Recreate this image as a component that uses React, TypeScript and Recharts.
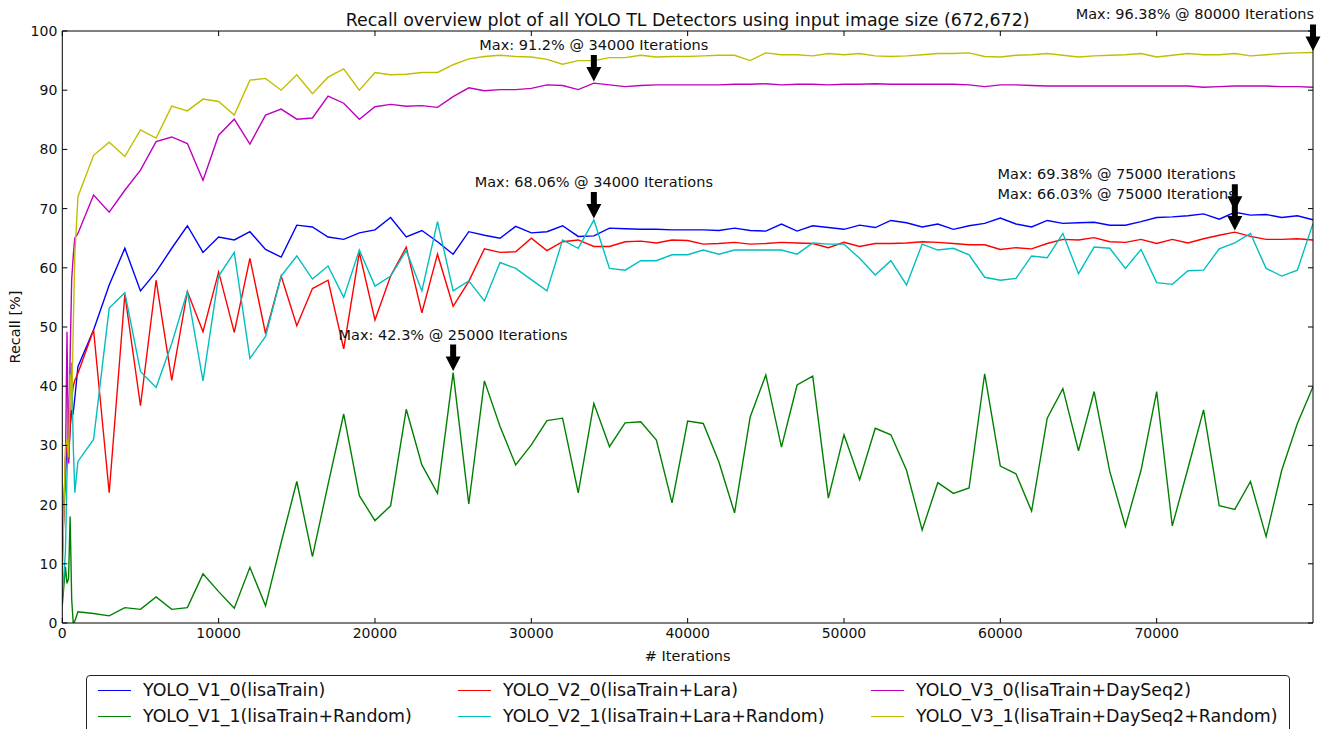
import React from 'react';
import { LineChart, Line, XAxis, YAxis, ReferenceDot, Legend } from 'recharts';

const TITLE = 'Recall overview plot of all YOLO TL Detectors using input image size (672,672)';
const X_LABEL = '# Iterations';
const Y_LABEL = 'Recall [%]';
const FONT = '"DejaVu Sans", sans-serif';

const ITERATIONS = [
  0, 200, 300, 400, 500, 600, 700, 800,
  1000, 2000, 3000, 4000, 5000, 6000, 7000, 8000, 9000, 10000,
  11000, 12000, 13000, 14000, 15000, 16000, 17000, 18000, 19000, 20000,
  21000, 22000, 23000, 24000, 25000, 26000, 27000, 28000, 29000, 30000,
  31000, 32000, 33000, 34000, 35000, 36000, 37000, 38000, 39000, 40000,
  41000, 42000, 43000, 44000, 45000, 46000, 47000, 48000, 49000, 50000,
  51000, 52000, 53000, 54000, 55000, 56000, 57000, 58000, 59000, 60000,
  61000, 62000, 63000, 64000, 65000, 66000, 67000, 68000, 69000, 70000,
  71000, 72000, 73000, 74000, 75000, 76000, 77000, 78000, 79000, 80000,
];

const V1_0 = [
  12, 25, 30, 28, 33, 36, 35.5, 38,
  43.3, 49.5, 57.1, 63.3, 56.1, 59.3, 63.3, 67.1, 62.6, 65.2,
  64.7, 66.1, 63.1, 61.8, 67.2, 66.9, 65.2, 64.8, 65.9, 66.4,
  68.5, 65.2, 66.3, 64.4, 62.3, 66.1, 65.5, 65.0, 67.0, 65.9,
  66.1, 67.1, 65.3, 65.4, 66.7, 66.6, 66.5, 66.5, 66.4, 66.4,
  66.4, 66.3, 66.7, 66.3, 66.2, 67.4, 66.2, 67.1, 66.8, 66.5,
  67.2, 66.8, 68.0, 67.6, 66.9, 67.4, 66.5, 67.1, 67.5, 68.4,
  67.4, 66.9, 68.0, 67.5, 67.6, 67.7, 67.2, 67.2, 67.8, 68.5,
  68.6, 68.8, 69.1, 68.2, 69.38, 68.9, 69.0, 68.5, 68.8, 68.1,
];

const V1_1 = [
  3, 9.5, 6.7, 7.5, 18, 4, 0, 0.3,
  1.9, 1.6, 1.2, 2.6, 2.3, 4.4, 2.3, 2.6, 8.3, 5.3,
  2.5, 9.4, 2.9, 13.6, 23.9, 11.2, 23.4, 35.3, 21.5, 17.3,
  19.8, 36.1, 26.7, 21.9, 42.3, 20.1, 40.9, 33.2, 26.7, 30.1,
  34.2, 34.6, 22.0, 37.1, 29.8, 33.8, 34.0, 30.9, 20.3, 34.1,
  33.7, 27.2, 18.6, 34.8, 41.9, 29.7, 40.2, 41.7, 21.1, 31.8,
  24.2, 32.9, 31.8, 25.8, 15.7, 23.7, 21.9, 22.8, 42.1, 26.5,
  25.2, 18.9, 34.6, 39.6, 29.1, 39.1, 25.6, 16.3, 25.8, 39.1,
  16.4, 26.1, 36.0, 19.8, 19.2, 23.9, 14.6, 25.8, 33.7, 39.9,
];

const V2_0 = [
  10, 28, 30, 27, 33, 38, 40, 41,
  42.2, 49.5, 22.0, 55.5, 36.7, 57.9, 41.0, 56.0, 49.2, 59.3,
  49.1, 61.6, 48.9, 58.6, 50.2, 56.5, 57.9, 46.3, 62.6, 51.2,
  58.6, 63.5, 52.4, 62.3, 53.5, 57.7, 63.2, 62.6, 62.7, 65.0,
  62.9, 64.4, 64.7, 63.6, 63.6, 64.4, 64.5, 64.2, 64.7, 64.6,
  64.0, 64.1, 64.3, 64.0, 64.1, 64.3, 64.2, 64.1, 63.4, 64.3,
  63.6, 64.1, 64.1, 64.2, 64.4, 64.3, 64.1, 63.9, 63.9, 63.1,
  63.4, 63.2, 64.1, 64.8, 64.7, 65.1, 64.4, 64.3, 64.8, 64.1,
  64.8, 64.2, 64.9, 65.5, 66.03, 65.3, 64.8, 64.8, 64.9, 64.7,
];

const V2_1 = [
  4, 12, 25, 35, 40, 44, 30, 22,
  27.3, 31.0, 53.2, 55.8, 42.5, 39.8, 47.2, 56.0, 40.9, 58.6,
  62.6, 44.7, 48.4, 58.6, 62.0, 58.1, 60.3, 55.0, 63.0, 56.9,
  58.6, 62.9, 56.1, 67.8, 56.1, 57.8, 54.4, 60.9, 59.9, 58.0,
  56.1, 64.7, 63.3, 68.06, 59.9, 59.6, 61.2, 61.2, 62.2, 62.2,
  63.0, 62.3, 63.0, 63.0, 63.0, 63.0, 62.3, 64.2, 64.0, 64.0,
  61.6, 58.8, 61.2, 57.1, 64.0, 63.0, 63.3, 62.2, 58.4, 57.9,
  58.2, 62.0, 61.7, 65.8, 59.0, 63.5, 63.3, 59.9, 63.1, 57.5,
  57.2, 59.5, 59.6, 63.2, 64.2, 65.8, 59.9, 58.6, 59.6, 67.5,
];

const V3_0 = [
  14, 26, 49.2, 27, 45, 58, 62, 65,
  65.8, 72.3, 69.4, 73.1, 76.5, 81.3, 82.1, 81.0, 74.8, 82.4,
  85.1, 80.9, 85.8, 86.8, 85.1, 85.3, 89.0, 87.8, 85.1, 87.2,
  87.6, 87.3, 87.4, 87.1, 88.9, 90.4, 89.9, 90.1, 90.1, 90.3,
  90.9, 90.8, 90.1, 91.2, 90.9, 90.6, 90.8, 90.9, 90.9, 90.9,
  90.9, 90.9, 91.0, 91.0, 91.1, 90.9, 91.0, 91.0, 90.9, 91.0,
  91.0, 91.1, 91.0, 91.0, 91.0, 91.0, 91.0, 90.9, 90.6, 90.9,
  90.9, 90.8, 90.7, 90.7, 90.7, 90.7, 90.7, 90.7, 90.7, 90.7,
  90.7, 90.7, 90.5, 90.6, 90.7, 90.7, 90.7, 90.6, 90.6, 90.5,
];

const V3_1 = [
  8, 29.5, 31, 28, 42, 36, 50, 62,
  72.0, 79.0, 81.2, 78.8, 83.3, 81.9, 87.3, 86.5, 88.5, 88.1,
  85.8, 91.7, 92.0, 90.0, 92.6, 89.4, 92.2, 93.6, 90.0, 93.0,
  92.6, 92.7, 93.0, 93.0, 94.3, 95.3, 95.7, 95.9, 95.7, 95.6,
  95.2, 94.4, 95.0, 95.0, 95.5, 95.5, 95.9, 95.6, 95.7, 95.7,
  95.8, 95.9, 95.9, 95.0, 96.3, 96.0, 96.0, 95.8, 96.2, 96.0,
  96.2, 95.8, 95.7, 95.8, 96.0, 96.2, 96.2, 96.3, 95.7, 95.6,
  95.9, 96.0, 96.2, 95.9, 95.6, 95.8, 95.9, 96.0, 96.2, 95.6,
  95.9, 96.2, 96.0, 96.0, 96.2, 95.8, 96.0, 96.2, 96.3, 96.38,
];

const SERIES_NAMES = [
  'YOLO_V1_0(lisaTrain)',
  'YOLO_V1_1(lisaTrain+Random)',
  'YOLO_V2_0(lisaTrain+Lara)',
  'YOLO_V2_1(lisaTrain+Lara+Random)',
  'YOLO_V3_0(lisaTrain+DaySeq2)',
  'YOLO_V3_1(lisaTrain+DaySeq2+Random)',
];
const SERIES_KEYS = ['v10', 'v11', 'v20', 'v21', 'v30', 'v31'];
const SERIES_COLORS = ['#0000ff', '#008000', '#ff0000', '#00bfbf', '#bf00bf', '#bfbf00'];
const SERIES_VALUES = [V1_0, V1_1, V2_0, V2_1, V3_0, V3_1];

const X_TICKS = [0, 10000, 20000, 30000, 40000, 50000, 60000, 70000];
const X_FRAME_TICKS = [0, 10000, 20000, 30000, 40000, 50000, 60000, 70000, 80000];
const Y_TICKS = [0, 10, 20, 30, 40, 50, 60, 70, 80, 90, 100];

const data = ITERATIONS.map((it, i) => {
  const row: Record<string, number> = { it };
  SERIES_KEYS.forEach((k, s) => {
    row[k] = SERIES_VALUES[s][i];
  });
  return row;
});

const maxima = SERIES_VALUES.map((vals) => {
  let bi = 0;
  vals.forEach((v, i) => {
    if (v > vals[bi]) bi = i;
  });
  return { x: ITERATIONS[bi], y: vals[bi] };
});

const makeAnnotation = (label: string, anchorEnd: boolean) => (p: any) => {
  const cx = p.cx;
  const cy = p.cy;
  const pts = [
    [cx - 3, cy - 28],
    [cx + 3, cy - 28],
    [cx + 3, cy - 16],
    [cx + 7.5, cy - 16],
    [cx, cy - 1.5],
    [cx - 7.5, cy - 16],
    [cx - 3, cy - 16],
  ]
    .map((q) => q.join(','))
    .join(' ');
  return (
    <g>
      <text
        x={anchorEnd ? cx + 1 : cx}
        y={cy - 33}
        textAnchor={anchorEnd ? 'end' : 'middle'}
        fontSize={14.5}
        fontFamily={FONT}
        fill="#111"
      >
        {label}
      </text>
      <polygon points={pts} fill="#000" />
    </g>
  );
};

const renderYLabel = (props: any) => {
  const vb = props.viewBox || { x: 0, y: 0, width: 0, height: 0 };
  const x = vb.x + 3;
  const y = vb.y + vb.height / 2;
  return (
    <text
      x={x}
      y={y}
      transform={`rotate(-90, ${x}, ${y})`}
      textAnchor="middle"
      dominantBaseline="central"
      fontSize={14.5}
      fontFamily={FONT}
      fill="#111"
    >
      {Y_LABEL}
    </text>
  );
};

const LEGEND_COL_LEFT = [11, 371, 784];
const LEGEND_ROW_TOP = [1, 27];

const renderLegend = (props: any) => {
  const items = props.payload || [];
  return (
    <div
      style={{
        position: 'relative',
        width: 1204,
        height: 70,
        boxSizing: 'border-box',
        border: '1px solid #222',
        borderRadius: 4,
        background: '#fff',
        fontFamily: FONT,
        fontSize: 17.4,
        color: '#111',
      }}
    >
      {items.map((it: any, i: number) => {
        const col = Math.floor(i / 2);
        const row = i % 2;
        return (
          <div
            key={String(it.value)}
            style={{
              position: 'absolute',
              left: LEGEND_COL_LEFT[col],
              top: LEGEND_ROW_TOP[row],
              height: 26,
              display: 'flex',
              alignItems: 'center',
              whiteSpace: 'nowrap',
            }}
          >
            <div style={{ width: 33, height: 0, borderTop: `1.4px solid ${it.color}`, marginRight: 12 }} />
            <span>{it.value}</span>
          </div>
        );
      })}
    </div>
  );
};

const emptyTick = () => <g />;

export default function App() {
  return (
    <div
      style={{
        position: 'absolute',
        left: 0,
        top: 0,
        width: 1323,
        height: 729,
        overflow: 'hidden',
        background: '#fff',
      }}
    >
      <LineChart width={1323} height={729} data={data} margin={{ top: 30, right: 9, bottom: 76, left: 12.3 }}>
        <XAxis
          xAxisId="b"
          dataKey="it"
          type="number"
          domain={[0, 80000]}
          allowDataOverflow
          ticks={X_TICKS}
          interval={0}
          tickSize={-5}
          tickMargin={10}
          height={30}
          stroke="#000"
          tick={{ fontSize: 14, fill: '#111', fontFamily: FONT }}
          label={{ value: X_LABEL, position: 'bottom', offset: -2, fontSize: 14.5, fill: '#111', fontFamily: FONT }}
        />
        <XAxis
          xAxisId="t"
          orientation="top"
          dataKey="it"
          type="number"
          domain={[0, 80000]}
          allowDataOverflow
          ticks={X_FRAME_TICKS}
          interval={0}
          tickSize={-5}
          height={1}
          stroke="#000"
          tick={emptyTick}
          label={{ value: TITLE, position: 'top', offset: 4, fontSize: 17.4, fill: '#111', fontFamily: FONT }}
        />
        <YAxis
          yAxisId="l"
          type="number"
          domain={[0, 100]}
          allowDataOverflow
          ticks={Y_TICKS}
          interval={0}
          tickSize={-5}
          tickMargin={10}
          width={50}
          stroke="#000"
          tick={{ fontSize: 14, fill: '#111', fontFamily: FONT }}
          label={renderYLabel}
        />
        <YAxis
          yAxisId="r"
          orientation="right"
          type="number"
          domain={[0, 100]}
          allowDataOverflow
          ticks={Y_TICKS}
          interval={0}
          tickSize={-5}
          width={1}
          stroke="#000"
          tick={emptyTick}
        />
        {SERIES_KEYS.map((k, s) => (
          <Line
            key={k}
            xAxisId="b"
            yAxisId="l"
            type="linear"
            dataKey={k}
            name={SERIES_NAMES[s]}
            stroke={SERIES_COLORS[s]}
            strokeWidth={1.4}
            dot={false}
            activeDot={false}
            isAnimationActive={false}
          />
        ))}
        {maxima.map((m, s) => (
          <ReferenceDot
            key={'max' + s}
            xAxisId="b"
            yAxisId="l"
            x={m.x}
            y={m.y}
            r={0}
            ifOverflow="visible"
            shape={makeAnnotation(`Max: ${m.y}% @ ${m.x} Iterations`, m.x >= 75000)}
          />
        ))}
        <Legend
          layout="horizontal"
          verticalAlign="middle"
          align="center"
          content={renderLegend}
          wrapperStyle={{ top: 675, left: 86, width: 1204, height: 70 }}
        />
      </LineChart>
    </div>
  );
}
